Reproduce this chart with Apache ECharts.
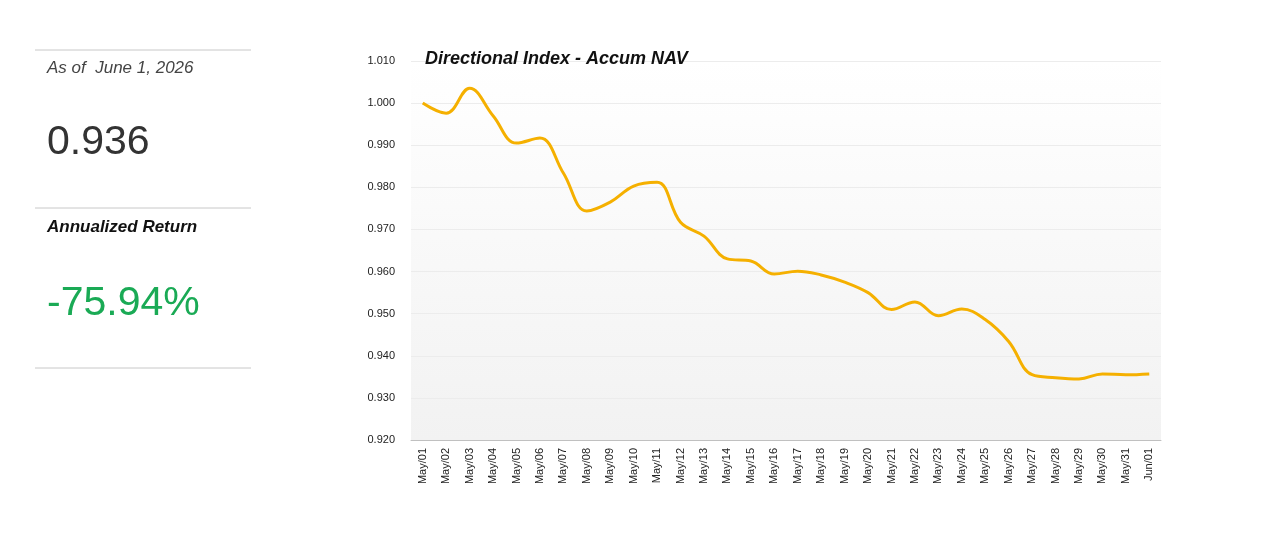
<!DOCTYPE html>
<html><head><meta charset="utf-8">
<script src="https://cdn.jsdelivr.net/npm/echarts@6/dist/echarts.min.js"></script>
<style>html,body{margin:0;background:#fff}#main{width:1280px;height:557px}</style>
</head><body><div id="main"></div>
<script>
var dates = ['May/01','May/02','May/03','May/04','May/05','May/06','May/07','May/08','May/09','May/10','May/11','May/12','May/13','May/14','May/15','May/16','May/17','May/18','May/19','May/20','May/21','May/22','May/23','May/24','May/25','May/26','May/27','May/28','May/29','May/30','May/31','Jun/01'];
var nav = [1.000,0.9976,1.0035,0.997,0.9905,0.9917,0.9834,0.9744,0.9765,0.9803,0.9812,0.9717,0.9684,0.963,0.9625,0.9594,0.9601,0.9592,0.9575,0.955,0.951,0.9528,0.9495,0.9511,0.9486,0.9434,0.9355,0.9348,0.9345,0.9357,0.9355,0.9357];
var latestNav = '0.936';
var asOf = 'As of  June 1, 2026';
var annReturn = '-75.94%';

var chart = echarts.init(document.getElementById('main'));
var line = function (y) {
  return { type: 'line', shape: { x1: 35, y1: y, x2: 251, y2: y }, style: { stroke: '#c8c8c8', lineWidth: 1 } };
};
chart.setOption({
  animation: false,
  title: { text: 'Directional Index - Accum NAV', left: 420, top: 45,
    textStyle: { fontFamily: 'Liberation Sans', fontStyle: 'italic', fontWeight: 'bold', fontSize: 18, color: '#111' } },
  graphic: [
    line(50), line(208), line(368),
    { type: 'text', left: 47, top: 60, style: { text: asOf, font: 'italic 17px "Liberation Sans"', fill: '#444' } },
    { type: 'text', left: 47, top: 122, style: { text: latestNav, font: '41px "Liberation Sans"', fill: '#333' } },
    { type: 'text', left: 47, top: 219, style: { text: 'Annualized Return', font: 'italic bold 17px "Liberation Sans"', fill: '#111' } },
    { type: 'text', left: 47, top: 283, style: { text: annReturn, font: '41px "Liberation Sans"', fill: '#1aaa55' } }
  ],
  grid: { left: 411, right: 119, top: 61, bottom: 117,
    show: true, borderWidth: 0,
    backgroundColor: new echarts.graphic.LinearGradient(0, 0, 0, 1, [{ offset: 0, color: '#ffffff' }, { offset: 1, color: '#f2f2f2' }]) },
  xAxis: { type: 'category', data: dates, boundaryGap: true,
    axisLine: { lineStyle: { color: '#c0c0c0' } },
    axisTick: { alignWithLabel: true, lineStyle: { color: '#c0c0c0' } },
    axisLabel: { rotate: 90, fontSize: 11, color: '#222', fontFamily: 'Liberation Sans', interval: 0 } },
  yAxis: { type: 'value', min: 0.92, max: 1.01, interval: 0.01,
    axisLine: { show: false },
    splitLine: { lineStyle: { color: '#ececec' } },
    axisLabel: { fontSize: 11, margin: 16, color: '#222', fontFamily: 'Liberation Sans', formatter: function (v) { return v.toFixed(3); } } },
  series: [{ type: 'line', data: nav, smooth: 0.4, showSymbol: false,
    lineStyle: { color: '#f5b000', width: 3 } }]
});
</script></body></html>
